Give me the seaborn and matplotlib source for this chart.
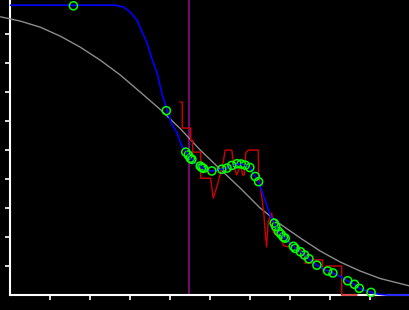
import numpy as np
import pandas as pd
import matplotlib
matplotlib.use("Agg")
import matplotlib.pyplot as plt
import seaborn as sns

# ---- data ----
gray_x = [-0.25, 0.25, 0.75, 1.25, 1.75, 2.25, 2.75, 3.25, 3.75, 4.25, 4.75,
          5.25, 5.75, 6.25, 6.75, 7.25, 7.75, 8.25, 8.75, 9.25, 10.0]
gray_y = [0.960, 0.945, 0.924, 0.893, 0.855, 0.810, 0.759, 0.700, 0.640, 0.574, 0.500,
          0.434, 0.369, 0.300, 0.245, 0.197, 0.152, 0.114, 0.083, 0.057, 0.031]

blue_x = [0.0, 2.625, 2.825, 3.0, 3.17, 3.275, 3.42, 3.525, 3.67, 3.8, 3.92, 4.025,
          4.17, 4.275, 4.375, 4.5, 4.625, 4.75, 4.875, 5.04, 5.15, 5.29, 5.42, 5.54,
          5.67, 5.775, 5.875, 5.99, 6.125, 6.21, 6.3, 6.4, 6.5, 6.6, 6.71, 6.83, 7.0,
          7.125, 7.26, 7.47, 7.67, 7.94, 8.07, 8.25, 8.44, 8.61, 8.73, 8.875, 9.025,
          9.2, 9.425, 10.0]
blue_y = [1.0, 1.0, 0.994, 0.976, 0.948, 0.914, 0.869, 0.821, 0.766, 0.690, 0.638, 0.593,
          0.559, 0.517, 0.500, 0.472, 0.455, 0.443, 0.434, 0.428, 0.431, 0.434, 0.438, 0.447,
          0.453, 0.452, 0.448, 0.440, 0.409, 0.391, 0.355, 0.316, 0.276, 0.248, 0.219, 0.200, 0.179,
          0.161, 0.149, 0.125, 0.103, 0.083, 0.076, 0.064, 0.049, 0.037, 0.023, 0.016, 0.009,
          0.003, 0.0, 0.0]

red_x = [4.24, 4.3, 4.3, 4.51, 4.51, 4.56, 4.56, 4.76, 4.76, 5.01, 5.075, 5.2, 5.325,
         5.375, 5.54, 5.59, 5.66, 5.71, 5.76, 5.81, 5.85, 5.89, 5.95, 6.2, 6.21, 6.29,
         6.34, 6.375, 6.41, 6.45, 6.54, 6.575, 6.66, 6.75, 6.825, 6.925, 7.04, 7.15, 7.25,
         7.325, 7.375, 7.375, 7.54, 7.54, 7.81, 7.81, 7.91, 8.29, 8.29, 8.675]
red_y = [0.666, 0.666, 0.576, 0.576, 0.534, 0.534, 0.493, 0.493, 0.403, 0.403, 0.334, 0.390, 0.459,
         0.5, 0.5, 0.448, 0.414, 0.431, 0.455, 0.414, 0.414, 0.490, 0.5, 0.5, 0.421, 0.338,
         0.283, 0.217, 0.166, 0.252, 0.283, 0.217, 0.207, 0.214, 0.172, 0.166, 0.176, 0.162, 0.159,
         0.145, 0.128, 0.110, 0.110, 0.121, 0.121, 0.086, 0.1, 0.1, 0.0, 0.0]

pts_x = [1.575, 3.9, 4.3875, 4.45, 4.5, 4.54, 4.75, 4.79, 4.83, 5.04, 5.29, 5.42, 5.54,
         5.67, 5.775, 5.875, 5.99, 6.125, 6.21, 6.6, 6.64, 6.71, 6.77, 6.83, 6.875, 7.08,
         7.125, 7.26, 7.36, 7.47, 7.67, 7.94, 8.07, 8.44, 8.61, 8.73, 9.025]
pts_y = [0.998, 0.636, 0.493, 0.483, 0.472, 0.468, 0.445, 0.440, 0.437, 0.428, 0.434, 0.438, 0.447,
         0.453, 0.452, 0.448, 0.440, 0.409, 0.391, 0.248, 0.236, 0.219, 0.210, 0.200, 0.196, 0.168,
         0.161, 0.149, 0.138, 0.125, 0.103, 0.083, 0.076, 0.049, 0.037, 0.023, 0.009]

vline_x = 4.46
x_ticks = [1, 2, 3, 4, 5, 6, 7, 8, 9]
y_ticks = [0.1, 0.2, 0.3, 0.4, 0.5, 0.6, 0.7, 0.8, 0.9]

# ---- style ----
sns.set_style("dark", {"axes.facecolor": "black", "figure.facecolor": "black",
                       "axes.edgecolor": "white", "xtick.color": "white",
                       "ytick.color": "white", "xtick.bottom": True, "ytick.left": True})

fig = plt.figure(figsize=(4.1, 3.1), dpi=100)
ax = fig.add_axes([10.5 / 410, 15 / 310, 1 - 10.5 / 410, 1 - 15 / 310])
ax.set_facecolor("black")

sns.lineplot(x=gray_x, y=gray_y, ax=ax, color="#8c8c8c", lw=1.0, sort=False,
             estimator=None, clip_on=False, zorder=3)
ax.axvline(vline_x, color="#8b0a8b", lw=1.2, zorder=2)
sns.lineplot(x=red_x, y=red_y, ax=ax, color="#d00000", lw=1.0, sort=False,
             estimator=None, clip_on=False, zorder=4)
sns.lineplot(x=blue_x, y=blue_y, ax=ax, color="#0000ff", lw=1.2, sort=False,
             estimator=None, clip_on=False, zorder=5)
sns.scatterplot(x=pts_x, y=pts_y, ax=ax, s=34, marker="o", facecolor="none",
                edgecolor="#00ff00", linewidth=1.1, zorder=6, clip_on=False)
sns.scatterplot(x=pts_x, y=pts_y, ax=ax, s=2, marker="o", color="#0000cc",
                linewidth=0, zorder=7, clip_on=False)

ax.set_xlim(0, 10)
ax.set_ylim(0, 1.018)
ax.set_xticks(x_ticks)
ax.set_yticks(y_ticks)
ax.set_xticklabels([])
ax.set_yticklabels([])
ax.tick_params(axis="both", direction="out", length=3.5, width=1.2, color="white")
for s in ["top", "right"]:
    ax.spines[s].set_visible(False)
for s in ["left", "bottom"]:
    ax.spines[s].set_color("white")
    ax.spines[s].set_linewidth(1.5)
ax.grid(False)
ax.set_xlabel("")
ax.set_ylabel("")

fig.savefig("out.png", dpi=100, facecolor="black")
